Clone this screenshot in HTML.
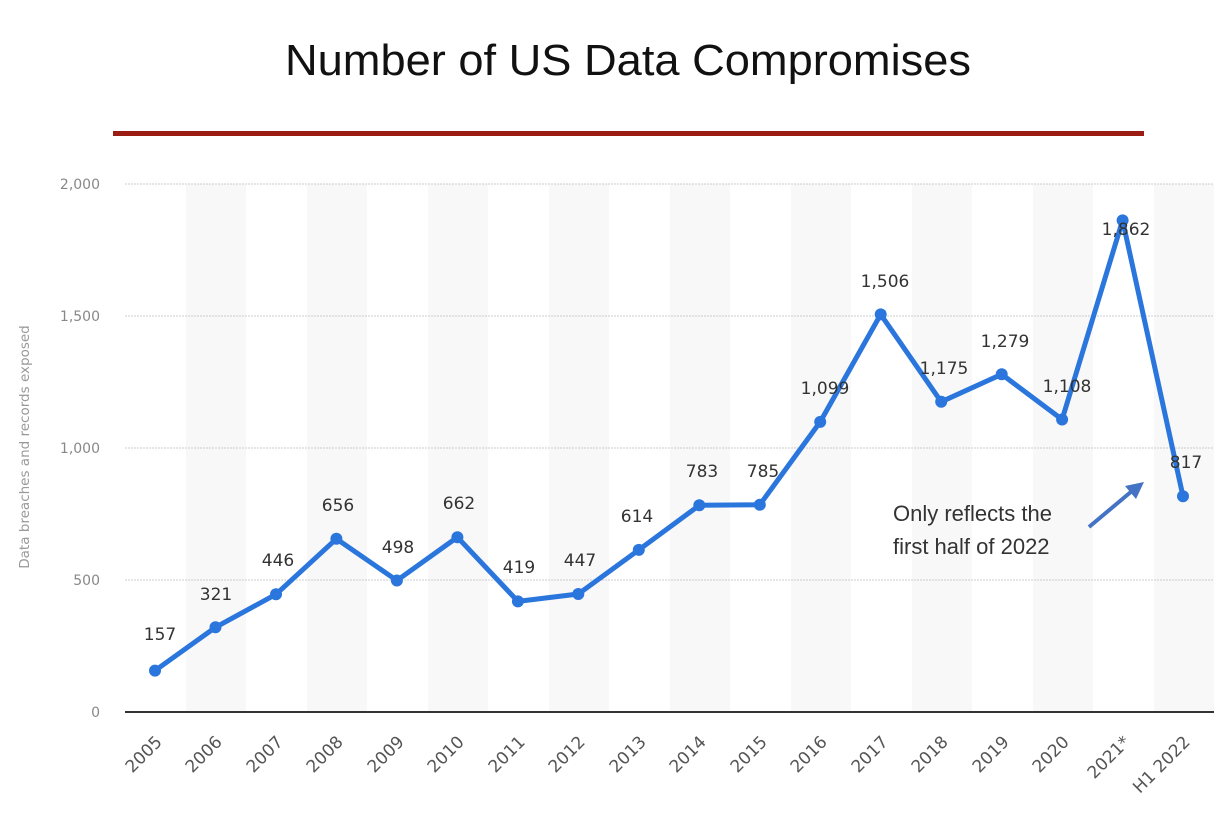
<!DOCTYPE html>
<html><head><meta charset="utf-8"><style>
body{margin:0;background:#fff;}
svg{display:block;}
</style></head><body>
<svg width="1226" height="820" xmlns="http://www.w3.org/2000/svg">
<rect width="1226" height="820" fill="#fff"/>
<text x="628" y="75" text-anchor="middle" font-family="Liberation Sans, sans-serif" font-size="44" fill="#111" textLength="686" lengthAdjust="spacingAndGlyphs">Number of US Data Compromises</text>
<rect x="113" y="131" width="1031" height="5" fill="#9b1c12"/>
<g fill="#f8f8f8">
<rect x="186" y="184" width="60" height="528"/>
<rect x="307" y="184" width="60" height="528"/>
<rect x="428" y="184" width="60" height="528"/>
<rect x="549" y="184" width="60" height="528"/>
<rect x="670" y="184" width="60" height="528"/>
<rect x="791" y="184" width="60" height="528"/>
<rect x="912" y="184" width="60" height="528"/>
<rect x="1033" y="184" width="60" height="528"/>
<rect x="1154" y="184" width="60" height="528"/>
</g>
<g stroke="#ccc" stroke-width="1" stroke-dasharray="2,1">
<line x1="125" y1="184" x2="1214" y2="184"/>
<line x1="125" y1="316" x2="1214" y2="316"/>
<line x1="125" y1="448" x2="1214" y2="448"/>
<line x1="125" y1="580" x2="1214" y2="580"/>
</g>
<line x1="125" y1="712" x2="1214" y2="712" stroke="#333" stroke-width="2"/>
<g font-family="DejaVu Sans, sans-serif" font-size="14" fill="#888" text-anchor="end">
<text x="100" y="189">2,000</text>
<text x="100" y="321">1,500</text>
<text x="100" y="453">1,000</text>
<text x="100" y="585">500</text>
<text x="100" y="717">0</text>
</g>
<text transform="translate(29,447) rotate(-90)" text-anchor="middle" font-family="DejaVu Sans, sans-serif" font-size="13.5" fill="#999">Data breaches and records exposed</text>
<g font-family="DejaVu Sans, sans-serif" font-size="17" fill="#555" text-anchor="end">
<text transform="translate(163,743) rotate(-45)">2005</text>
<text transform="translate(223,743) rotate(-45)">2006</text>
<text transform="translate(284,743) rotate(-45)">2007</text>
<text transform="translate(344,743) rotate(-45)">2008</text>
<text transform="translate(405,743) rotate(-45)">2009</text>
<text transform="translate(465,743) rotate(-45)">2010</text>
<text transform="translate(526,743) rotate(-45)">2011</text>
<text transform="translate(586,743) rotate(-45)">2012</text>
<text transform="translate(647,743) rotate(-45)">2013</text>
<text transform="translate(707,743) rotate(-45)">2014</text>
<text transform="translate(768,743) rotate(-45)">2015</text>
<text transform="translate(828,743) rotate(-45)">2016</text>
<text transform="translate(889,743) rotate(-45)">2017</text>
<text transform="translate(949,743) rotate(-45)">2018</text>
<text transform="translate(1010,743) rotate(-45)">2019</text>
<text transform="translate(1070,743) rotate(-45)">2020</text>
<text transform="translate(1131,743) rotate(-45)">2021*</text>
<text transform="translate(1191,743) rotate(-45)">H1 2022</text>
</g>
<polyline fill="none" stroke="#2a76dc" stroke-width="5" stroke-linejoin="round" points="155,670.6 215.5,627.3 276,594.3 336.4,538.8 396.9,580.5 457.4,537.2 517.9,601.4 578.3,594 638.8,549.9 699.3,505.3 759.8,504.8 820.2,421.9 880.7,314.4 941.2,401.8 1001.7,374.3 1062.1,419.5 1122.6,220.4 1183,496.3"/>
<g fill="#2a76dc">
<circle cx="155" cy="670.6" r="6"/><circle cx="215.5" cy="627.3" r="6"/><circle cx="276" cy="594.3" r="6"/><circle cx="336.4" cy="538.8" r="6"/><circle cx="396.9" cy="580.5" r="6"/><circle cx="457.4" cy="537.2" r="6"/><circle cx="517.9" cy="601.4" r="6"/><circle cx="578.3" cy="594" r="6"/><circle cx="638.8" cy="549.9" r="6"/><circle cx="699.3" cy="505.3" r="6"/><circle cx="759.8" cy="504.8" r="6"/><circle cx="820.2" cy="421.9" r="6"/><circle cx="880.7" cy="314.4" r="6"/><circle cx="941.2" cy="401.8" r="6"/><circle cx="1001.7" cy="374.3" r="6"/><circle cx="1062.1" cy="419.5" r="6"/><circle cx="1122.6" cy="220.4" r="6"/><circle cx="1183" cy="496.3" r="6"/>
</g>
<g font-family="DejaVu Sans, sans-serif" font-size="17" fill="#333" text-anchor="middle">
<text x="160" y="640">157</text>
<text x="216" y="600">321</text>
<text x="278" y="566">446</text>
<text x="338" y="511">656</text>
<text x="398" y="553">498</text>
<text x="459" y="509">662</text>
<text x="519" y="573">419</text>
<text x="580" y="566">447</text>
<text x="637" y="522">614</text>
<text x="702" y="477">783</text>
<text x="763" y="477">785</text>
<text x="825" y="394">1,099</text>
<text x="885" y="287">1,506</text>
<text x="944" y="374">1,175</text>
<text x="1005" y="347">1,279</text>
<text x="1067" y="392">1,108</text>
<text x="1126" y="235">1,862</text>
<text x="1186" y="468">817</text>
</g>
<g font-family="Liberation Sans, sans-serif" font-size="22" fill="#333">
<text x="893" y="521">Only reflects the</text>
<text x="893" y="554">first half of 2022</text>
</g>
<line x1="1089" y1="527" x2="1132" y2="491" stroke="#4472c4" stroke-width="4"/>
<polygon points="1144,482 1125,486 1136,499" fill="#4472c4"/>
</svg>
</body></html>
